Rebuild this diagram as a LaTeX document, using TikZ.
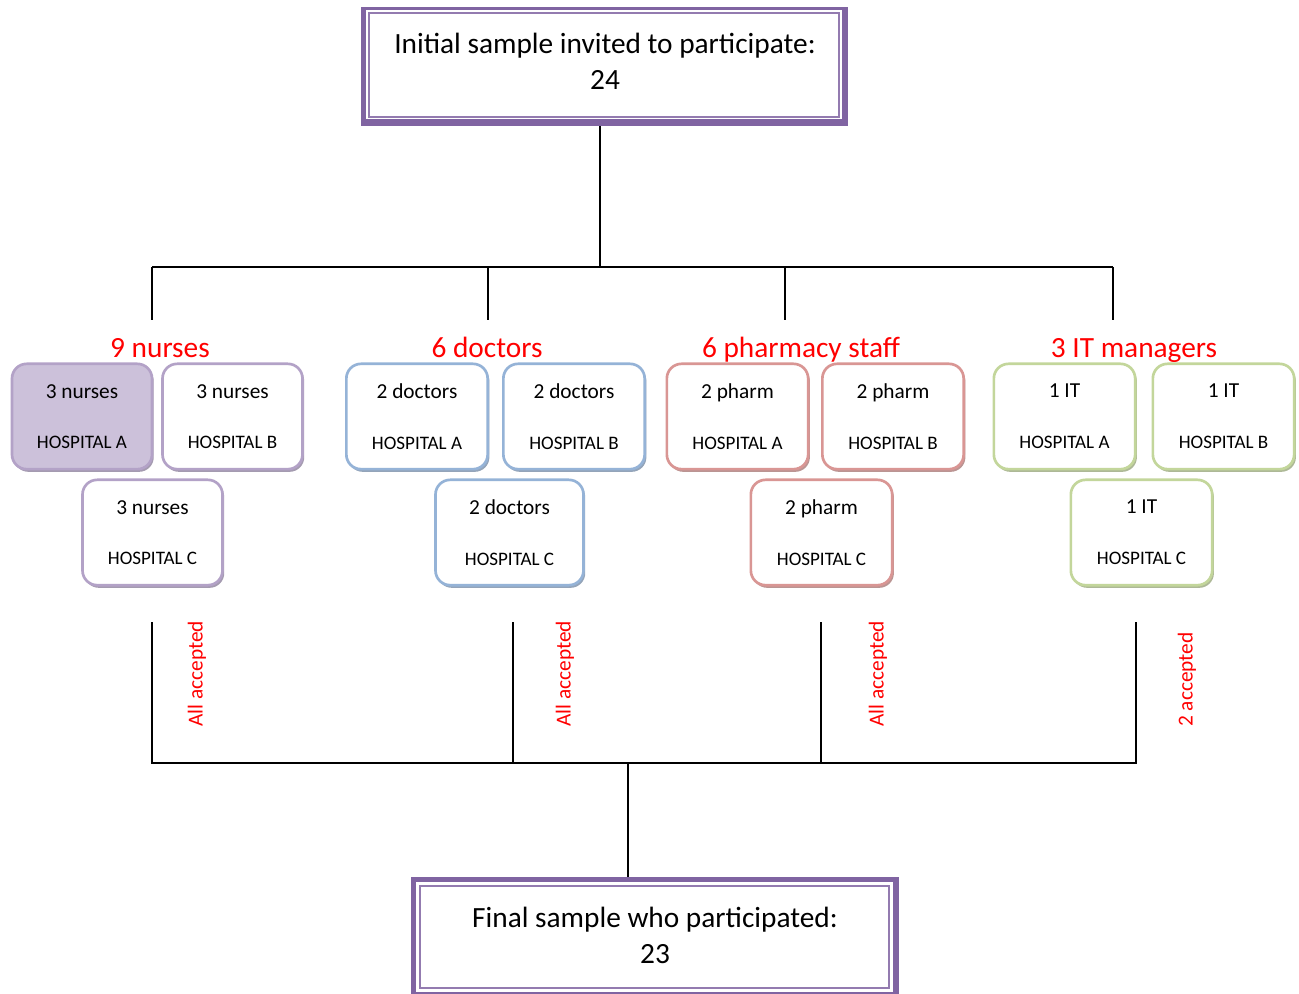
\documentclass[tikz,border=0pt]{standalone}
\usepackage{fontspec}
\setmainfont{Carlito}
\usetikzlibrary{shadows}
\definecolor{frameP}{HTML}{8064A2}
\definecolor{nurseC}{HTML}{B3A2C7}
\definecolor{nurseF}{HTML}{CCC1DA}
\definecolor{docC}{HTML}{95B3D7}
\definecolor{pharmC}{HTML}{D99694}
\definecolor{itC}{HTML}{C3D69B}
\definecolor{redT}{HTML}{FF0000}
\tikzset{
  conn/.style={line width=1.5pt, black},
  grp/.style={text=redT, font=\fontsize{22}{24}\selectfont, inner sep=0pt, anchor=base},
  acc/.style={text=redT, font=\fontsize{16}{18}\selectfont, rotate=90, anchor=west, inner sep=0pt},
  mainT/.style={align=center, font=\fontsize{22}{27}\selectfont, inner sep=0pt},
  hbox/.style={draw=#1, line width=2pt, fill=white, rounded corners=11pt,
    minimum width=106pt, minimum height=79pt, inner sep=0pt, align=center,
    font=\fontsize{16}{16}\selectfont,
    drop shadow={shadow xshift=1.3pt, shadow yshift=-2pt, opacity=0.75, fill=#1!75!black}},
}
\newcommand{\bx}[2]{#1\\[22pt]{\fontsize{14.3}{16}\selectfont #2}}
\begin{document}
\begin{tikzpicture}[x=0.75pt, y=-0.75pt]
\clip (0,0) rectangle (1299,994);
\useasboundingbox (0,0) rectangle (1299,994);

% top frame
\node[fill=frameP, minimum width=365.25pt, minimum height=89.25pt, inner sep=0pt] (top) at (604.5,66.5) {};
\fill[white] (366,10) rectangle (842,119);
\draw[frameP!85, line width=1.2pt] (369,13) rectangle (839,117);
\node[mainT] (toptext) at (605,61) {Initial sample invited to participate:\\24};

% bottom frame
\node[fill=frameP, minimum width=366pt, minimum height=90pt, inner sep=0pt] (bot) at (655,937) {};
\fill[white] (416,882) rectangle (893,992);
\draw[frameP!85, line width=1.2pt] (420,886) rectangle (889,988);
\node[mainT] (bottext) at (655,935.5) {Final sample who participated:\\23};

% top tree
\coordinate (j0) at (600,267);
\coordinate (jL) at (152,267);
\coordinate (jR) at (1113,267);
\coordinate (b1) at (152,320);
\coordinate (b2) at (488,320);
\coordinate (b3) at (785,320);
\coordinate (b4) at (1113,320);
\draw[conn] (j0 |- top.south) -- (j0);
\draw[conn] (jL) -- (jR);
\draw[conn] (jL) -- (b1);
\draw[conn] (b2 |- j0) -- (b2);
\draw[conn] (b3 |- j0) -- (b3);
\draw[conn] (jR) -- (b4);

% group labels
\node[grp] (gN) at (160,358) {9 nurses};
\node[grp] (gD) at (487,358) {6 doctors};
\node[grp] (gP) at (801,358) {6 pharmacy staff};
\node[grp] (gI) at (1134,358) {3 IT managers};

% nurses
\node[hbox=nurseC, fill=nurseF, minimum width=105pt] (nA) at (82,416.5) {\bx{3 nurses}{HOSPITAL A}};
\node[hbox=nurseC, minimum width=105pt] (nB) at (232.5,416.5) {\bx{3 nurses}{HOSPITAL B}};
\node[hbox=nurseC, minimum width=105pt] (nC) at (152.5,532.5) {\bx{3 nurses}{HOSPITAL C}};
% doctors
\node[hbox=docC] (dA) at (417,416.5) {\bx{2 doctors}{HOSPITAL A}};
\node[hbox=docC] (dB) at (574,416.5) {\bx{2 doctors}{HOSPITAL B}};
\node[hbox=docC, minimum width=111pt] (dC) at (509.5,532.5) {\bx{2 doctors}{HOSPITAL C}};
% pharmacy
\node[hbox=pharmC] (pA) at (737.5,416.5) {\bx{2 pharm}{HOSPITAL A}};
\node[hbox=pharmC] (pB) at (893,416.5) {\bx{2 pharm}{HOSPITAL B}};
\node[hbox=pharmC] (pC) at (821.5,532.5) {\bx{2 pharm}{HOSPITAL C}};
% IT
\node[hbox=itC] (iA) at (1064.5,416.5) {\bx{1 IT}{HOSPITAL A}};
\node[hbox=itC] (iB) at (1223.5,416.5) {\bx{1 IT}{HOSPITAL B}};
\node[hbox=itC] (iC) at (1141.5,532.5) {\bx{1 IT}{HOSPITAL C}};

% bottom tree
\coordinate (c1) at (152,622);
\coordinate (c2) at (513,622);
\coordinate (c3) at (821,622);
\coordinate (c4) at (1136,622);
\coordinate (k1) at (152,763);
\coordinate (k4) at (1136,763);
\coordinate (k0) at (628,763);
\draw[conn] (c1) -- (k1) -- (k4) -- (c4);
\draw[conn] (c2) -- (c2 |- k0);
\draw[conn] (c3) -- (c3 |- k0);
\draw[conn] (k0) -- (k0 |- bot.north);

% accepted labels
\node[acc] (a1) at (197,727) {All accepted};
\node[acc] (a2) at (565,727) {All accepted};
\node[acc] (a3) at (878,727) {All accepted};
\node[acc] (a4) at (1187,727) {2 accepted};
\end{tikzpicture}
\end{document}
